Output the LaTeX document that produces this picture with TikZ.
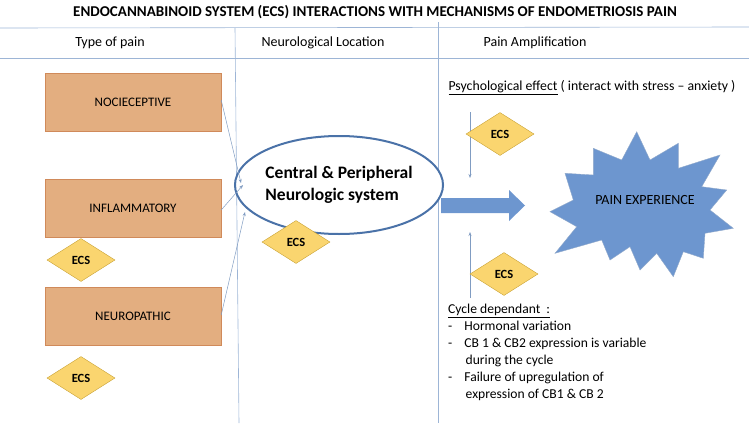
\documentclass[tikz,border=0pt]{standalone}
\usepackage{fontspec}
\setmainfont{Carlito}
\usetikzlibrary{shapes.geometric,arrows.meta}
\definecolor{boxf}{HTML}{E3AE80}
\definecolor{boxd}{HTML}{D08A5A}
\definecolor{ecsf}{HTML}{FAD56F}
\definecolor{ecsd}{HTML}{C9A236}
\definecolor{bl}{HTML}{6D96CF}
\definecolor{bld}{HTML}{4A72A8}
\definecolor{ln}{HTML}{9DB5D6}
\begin{document}
\begin{tikzpicture}[x=1pt,y=-1pt,
  pbox/.style={draw=boxd,fill=boxf,minimum width=176pt,minimum height=58pt,font=\fontsize{13}{15}\selectfont},
  ecs/.style={diamond,draw=ecsd,fill=ecsf,aspect=1.55,minimum width=68pt,minimum height=43pt,inner sep=0pt,font=\bfseries\fontsize{12.5}{14}\selectfont},
  thin/.style={draw=ln,line width=0.6pt},
  arr/.style={draw=bld!70,line width=0.5pt,-{Stealth[length=4pt,width=3pt]}}]
\useasboundingbox (0,0) rectangle (749,423);
\node (title) at (375,12) {\bfseries\fontsize{15}{16}\selectfont ENDOCANNABINOID SYSTEM (ECS) INTERACTIONS WITH MECHANISMS OF ENDOMETRIOSIS PAIN};
\coordinate (h1l) at (0,28); \coordinate (h1r) at (749,27);
\coordinate (h2l) at (0,58); \coordinate (h2r) at (749,58);
\coordinate (v1t) at (235,28); \coordinate (v1b) at (239,423);
\coordinate (v2t) at (438,22); \coordinate (v2b) at (438,423);
\draw[thin] (h1l) -- (h1r); \draw[thin] (h2l) -- (h2r);
\draw[thin] (v1t) -- (v1b); \draw[thin] (v2t) -- (v2b);
\node (hd1) at (110,43) {\fontsize{14}{16}\selectfont Type of pain};
\node (hd2) at (323,43) {\fontsize{14}{16}\selectfont Neurological Location};
\node (hd3) at (535,43) {\fontsize{14}{16}\selectfont Pain Amplification};
\node[pbox] (noc) at (133,102) {NOCIECEPTIVE};
\node[pbox] (inf) at (133,208) {INFLAMMATORY};
\node[pbox] (neu) at (133,316) {NEUROPATHIC};
\node[ecs] (e1) at (81,260) {ECS};
\node[ecs] (e2) at (81,378) {ECS};
\node[ellipse,draw=bld,line width=2pt,fill=white,minimum width=194pt,minimum height=98pt,inner sep=0pt,align=left,font=\bfseries\fontsize{17.5}{22}\selectfont] (cns) at (339,185) {Central \& Peripheral\\Neurologic system};
\node[ecs] (e3) at (296,242) {ECS};
\draw[arr] (noc.east |- 0,100) -- (241,183);
\draw[arr] (inf.east |- 0,210) -- (243,185);
\draw[arr] (neu.east |- 0,315) -- (245,212);
\draw[fill=bl,draw=none] (441,198) -- (509,198) -- (509,190) -- (525,205.5) -- (509,221) -- (509,213) -- (441,213) -- cycle;
\node[anchor=west,font=\fontsize{13.8}{16}\selectfont] (psy) at (445,88) {\underline{Psychological effect} ( interact with stress -- anxiety )};
\coordinate (a1s) at (470,112); \coordinate (a1e) at (470,178);
\coordinate (a2s) at (470,298); \coordinate (a2e) at (470,232);
\draw[arr] (a1s) -- (a1e);
\draw[arr] (a2s) -- (a2e);
\node[ecs] (e4) at (500,134) {ECS};
\node[ecs] (e5) at (504,274) {ECS};
\draw[fill=bl,draw=bld!60,line width=0.4pt] (636.7,131.7) -- (650,160) -- (678.3,143.3) -- (678.3,168.3) -- (720,155) -- (701.7,186.7) -- (726.7,190) -- (710,210) -- (733.3,228.3) -- (705,233.3) -- (703.3,258.3) -- (683.3,251.7) -- (673.3,276.7) -- (656.7,253.3) -- (640,270) -- (630,246.7) -- (610,260) -- (601.7,240) -- (555,253.3) -- (576.7,226.7) -- (550,211.7) -- (573.3,200) -- (565,173.3) -- (593.3,175) -- (593.3,148.3) -- (621.7,160) -- cycle;
\node[font=\fontsize{14}{16}\selectfont] (pe) at (645,200) {PAIN EXPERIENCE};
\node[anchor=north west,align=left,inner sep=0pt,font=\fontsize{13.6}{17}\selectfont] (cyc) at (448,304) {\underline{Cycle dependant\ \ :}\\
-\hspace{12pt}Hormonal variation\\
-\hspace{12pt}CB 1 \& CB2 expression is variable\\
\hspace{17.5pt}during the cycle\\
-\hspace{12pt}Failure of upregulation of\\
\hspace{17.5pt}expression of CB1 \& CB 2};
\end{tikzpicture}
\end{document}
